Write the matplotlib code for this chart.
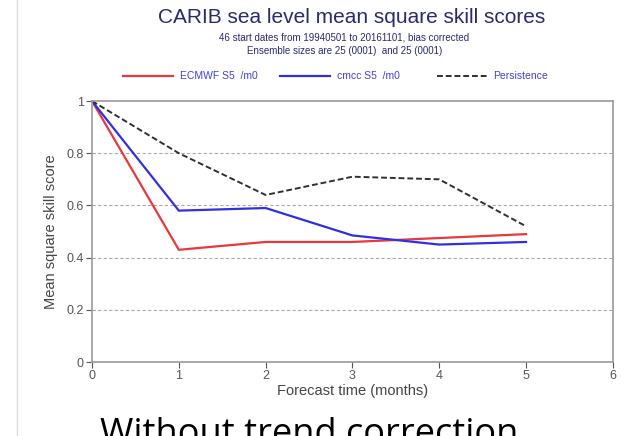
import matplotlib
matplotlib.use("Agg")
import matplotlib.pyplot as plt

lead = [0, 1, 2, 3, 4, 5]
ecmwf = [1.0, 0.43, 0.46, 0.46, 0.475, 0.49]
cmcc = [1.0, 0.58, 0.59, 0.485, 0.45, 0.46]
persist = [1.0, 0.80, 0.64, 0.71, 0.70, 0.52]

plt.rcParams['font.family'] = ['Liberation Sans', 'DejaVu Sans']

fig = plt.figure(figsize=(6.23, 4.36), dpi=100)
ax = fig.add_axes([0.1477, 0.1697, 0.836, 0.5986])

ax.plot(lead, ecmwf, color='#e8383d', lw=1.6)
ax.plot(lead, cmcc, color='#3030e0', lw=1.6)
ax.plot(lead, persist, color='#303030', lw=1.4, ls=(0, (3, 1.5)))

ax.set_xlim(0, 6)
ax.set_ylim(0, 1)
ax.set_xticks(range(7))
ax.set_yticks([0, 0.2, 0.4, 0.6, 0.8, 1])
ax.set_yticklabels(['0', '0.2', '0.4', '0.6', '0.8', '1'])
for y in [0.2, 0.4, 0.6, 0.8]:
    ax.axhline(y, color='#aaaaaa', lw=0.8, ls=(0, (3, 2)), zorder=0)
for s in ax.spines.values():
    s.set_color('#999999')
    s.set_linewidth(1.2)
ax.tick_params(colors='#555555', labelsize=9, length=4, width=0.8, pad=2)
ax.set_xlabel('Forecast time (months)', fontsize=10.5, color='#444444', labelpad=1)
ax.set_ylabel('Mean square skill score', fontsize=10.5, color='#444444', labelpad=6)

fig.text(0.565, 0.961, 'CARIB sea level mean square skill scores', ha='center',
         va='center', fontsize=15, color='#2a2a6e')
fig.text(0.553, 0.915, '46 start dates from 19940501 to 20161101, bias corrected',
         ha='center', va='center', fontsize=7, color='#2a2a6e')
fig.text(0.553, 0.884, 'Ensemble sizes are 25 (0001)  and 25 (0001)',
         ha='center', va='center', fontsize=7, color='#2a2a6e')

# legend drawn by hand in figure coords
ly = 0.826
fig.add_artist(plt.Line2D([0.197, 0.278], [ly, ly], color='#e8383d', lw=1.6))
fig.text(0.289, ly, 'ECMWF S5  /m0', va='center', fontsize=7.5, color='#4040e0')
fig.add_artist(plt.Line2D([0.449, 0.530], [ly, ly], color='#3030e0', lw=1.6))
fig.text(0.541, ly, 'cmcc S5  /m0', va='center', fontsize=7.5, color='#4040e0')
fig.add_artist(plt.Line2D([0.701, 0.783], [ly, ly], color='#303030', lw=1.4,
                          ls=(0, (3, 1.5))))
fig.text(0.791, ly, 'Persistence', va='center', fontsize=7.5, color='#4040e0')

fig.add_artist(plt.Line2D([0.028, 0.028], [0, 1], color='#dddddd', lw=1))

fig.text(0.496, -0.018, 'Without trend correction', ha='center', va='baseline',
         fontsize=26, color='black', family=['Open Sans', 'DejaVu Sans'])

fig.savefig('out.png', dpi=100)
